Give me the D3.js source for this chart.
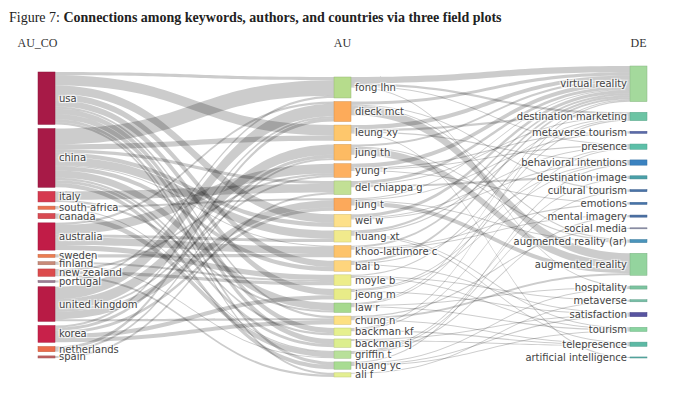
<!DOCTYPE html>
<html>
<head>
<meta charset="utf-8">
<script src="https://cdn.jsdelivr.net/npm/d3@7"></script>
<style>
  body { margin: 0; background: #fff; }
  .node-label {
    font-family: "DejaVu Sans", Verdana, sans-serif;
    font-size: 10px;
    fill: #444;
    text-shadow: 1px 1px 1px #fff, -1px -1px 1px #fff, 1px -1px 1px #fff, -1px 1px 1px #fff;
  }
</style>
</head>
<body>
<div id="chart"></div>
<script>
// DATA ------------------------------------------------------------------
const countries = ["usa", "china", "italy", "south africa", "canada", "australia", "sweden",
  "finland", "new zealand", "portugal", "united kingdom", "korea", "netherlands", "spain"];

const authors = ["fong lhn", "dieck mct", "leung xy", "jung th", "yung r", "del chiappa g",
  "jung t", "wei w", "huang xt", "khoo-lattimore c", "bai b", "moyle b", "jeong m", "law r",
  "chung n", "backman kf", "backman sj", "griffin t", "huang yc", "ali f"];

const keywords = ["virtual reality", "destination marketing", "metaverse tourism", "presence",
  "behavioral intentions", "destination image", "cultural tourism", "emotions", "mental imagery",
  "social media", "augmented reality (ar)", "augmented reality", "hospitality", "metaverse",
  "satisfaction", "tourism", "telepresence", "artificial intelligence"];

// [country, author, value]
const countryAuthor = [
  ["china", "fong lhn", 15], ["usa", "fong lhn", 3], ["portugal", "fong lhn", 2],
  ["united kingdom", "dieck mct", 12], ["netherlands", "dieck mct", 3], ["korea", "dieck mct", 2], ["australia", "dieck mct", 2],
  ["usa", "leung xy", 10], ["china", "leung xy", 5],
  ["united kingdom", "jung th", 10], ["korea", "jung th", 3], ["netherlands", "jung th", 2],
  ["australia", "yung r", 9], ["united kingdom", "yung r", 2], ["new zealand", "yung r", 2],
  ["italy", "del chiappa g", 8], ["china", "del chiappa g", 3], ["spain", "del chiappa g", 2],
  ["united kingdom", "jung t", 7], ["korea", "jung t", 3], ["south africa", "jung t", 2],
  ["usa", "wei w", 8], ["china", "wei w", 4],
  ["china", "huang xt", 8], ["australia", "huang xt", 3],
  ["australia", "khoo-lattimore c", 7], ["china", "khoo-lattimore c", 1], ["sweden", "khoo-lattimore c", 3],
  ["usa", "bai b", 6], ["china", "bai b", 4],
  ["australia", "moyle b", 5], ["new zealand", "moyle b", 3], ["finland", "moyle b", 2],
  ["usa", "jeong m", 6], ["korea", "jeong m", 4],
  ["china", "law r", 7], ["italy", "law r", 2],
  ["korea", "chung n", 4], ["usa", "chung n", 2], ["united kingdom", "chung n", 2],
  ["usa", "backman kf", 5], ["china", "backman kf", 2],
  ["usa", "backman sj", 5], ["china", "backman sj", 3],
  ["canada", "griffin t", 5], ["finland", "griffin t", 1], ["south africa", "griffin t", 1],
  ["usa", "huang yc", 3], ["china", "huang yc", 4],
  ["usa", "ali f", 2], ["new zealand", "ali f", 2]
];

// [author, keyword, value]
const authorKeyword = [
  ["fong lhn", "virtual reality", 6], ["fong lhn", "destination marketing", 2], ["fong lhn", "presence", 1], ["fong lhn", "hospitality", 1],
  ["dieck mct", "augmented reality", 8], ["dieck mct", "virtual reality", 3], ["dieck mct", "cultural tourism", 1], ["dieck mct", "augmented reality (ar)", 1],
  ["leung xy", "virtual reality", 4], ["leung xy", "destination marketing", 2], ["leung xy", "behavioral intentions", 1], ["leung xy", "artificial intelligence", 1],
  ["jung th", "augmented reality", 7], ["jung th", "virtual reality", 2], ["jung th", "augmented reality (ar)", 1],
  ["yung r", "virtual reality", 4], ["yung r", "metaverse tourism", 1], ["yung r", "presence", 1], ["yung r", "emotions", 1],
  ["del chiappa g", "virtual reality", 3], ["del chiappa g", "destination image", 2], ["del chiappa g", "destination marketing", 1],
  ["jung t", "augmented reality", 4], ["jung t", "virtual reality", 1], ["jung t", "augmented reality (ar)", 1], ["jung t", "metaverse tourism", 1],
  ["wei w", "virtual reality", 3], ["wei w", "presence", 1], ["wei w", "behavioral intentions", 1],
  ["huang xt", "virtual reality", 2], ["huang xt", "destination marketing", 1], ["huang xt", "telepresence", 1], ["huang xt", "tourism", 1],
  ["khoo-lattimore c", "virtual reality", 2], ["khoo-lattimore c", "emotions", 1], ["khoo-lattimore c", "mental imagery", 1],
  ["bai b", "virtual reality", 2], ["bai b", "behavioral intentions", 1], ["bai b", "satisfaction", 1],
  ["moyle b", "destination marketing", 1], ["moyle b", "tourism", 1], ["moyle b", "metaverse", 1],
  ["jeong m", "behavioral intentions", 1], ["jeong m", "presence", 1], ["jeong m", "satisfaction", 1],
  ["law r", "virtual reality", 1], ["law r", "hospitality", 1], ["law r", "tourism", 1], ["law r", "destination marketing", 1],
  ["chung n", "augmented reality", 2], ["chung n", "social media", 1], ["chung n", "telepresence", 1],
  ["backman kf", "virtual reality", 1], ["backman kf", "presence", 1], ["backman kf", "telepresence", 1],
  ["backman sj", "satisfaction", 1], ["backman sj", "telepresence", 1],
  ["griffin t", "cultural tourism", 1], ["griffin t", "mental imagery", 1], ["griffin t", "destination image", 1],
  ["huang yc", "behavioral intentions", 1], ["huang yc", "satisfaction", 1], ["huang yc", "tourism", 1], ["huang yc", "hospitality", 1],
  ["ali f", "metaverse", 1]
];

const fieldTitles = ["AU_CO", "AU", "DE"];

// STYLES ----------------------------------------------------------------
const nodeColor = d3.scaleOrdinal()
  .domain([...countries, ...authors, ...keywords])
  .range([
    // countries
    "#a71a47", "#a71a47", "#d6394f", "#ea7150", "#d94a52", "#c11c47", "#ec7d51",
    "#c98a78", "#dc4b4c", "#9b7c93", "#b81b45", "#c8214a", "#ea6b4b", "#c06262",
    // authors
    "#b6dc8c", "#fdab5a", "#fec76c", "#fdbb63", "#fdb060", "#c2e095", "#fca95b",
    "#fde08a", "#f1ea8c", "#fdc36a", "#fed57d", "#eded8a", "#e8ec88", "#a6d98e",
    "#fde082", "#e6f08e", "#dcee8e", "#b8e09a", "#a8dc92", "#e4ef92",
    // keywords
    "#a4d99c", "#6cc4a4", "#5a6aaa", "#5cbfa8", "#3a82c0", "#4aa0a8", "#4a74a8",
    "#4674aa", "#4a70a5", "#8a8ea8", "#4a94bb", "#94d49e", "#7cc4a0", "#76bea6",
    "#5854a0", "#8ad4a0", "#5cb9a4", "#5ab0a8"
  ]);

// CHART -----------------------------------------------------------------
const width = 687, height = 400;
const nodeWidth = 17;
const colX = d3.scaleLinear().domain([0, 2]).range([38, 630]);
const colExtent = [[72, 358], [77, 377], [66, 358]];
const minPad = 3.6;

const svg = d3.select('#chart')
  .append('svg')
  .attr('width', width)
  .attr('height', height);

// build nodes and links
const columns = [countries, authors, keywords];
const nodeMap = new Map();
columns.forEach((names, col) => {
  names.forEach((name, i) => {
    nodeMap.set(col + ':' + name, {name, col, index: i, inLinks: [], outLinks: []});
  });
});

const links = [];
countryAuthor.forEach(([s, t, v]) => links.push({source: nodeMap.get('0:' + s), target: nodeMap.get('1:' + t), value: v}));
authorKeyword.forEach(([s, t, v]) => links.push({source: nodeMap.get('1:' + s), target: nodeMap.get('2:' + t), value: v}));
links.forEach(l => { l.source.outLinks.push(l); l.target.inLinks.push(l); });

const nodes = Array.from(nodeMap.values());
nodes.forEach(n => {
  n.value = Math.max(d3.sum(n.inLinks, l => l.value), d3.sum(n.outLinks, l => l.value));
});

// shared vertical scale
const byCol = d3.group(nodes, n => n.col);
const ky = d3.min(Array.from(byCol), ([col, ns]) =>
  (colExtent[col][1] - colExtent[col][0] - minPad * (ns.length - 1)) / d3.sum(ns, n => n.value));

byCol.forEach((ns, col) => {
  const total = d3.sum(ns, n => n.value) * ky;
  const pad = (colExtent[col][1] - colExtent[col][0] - total) / (ns.length - 1);
  let y = colExtent[col][0];
  ns.sort((a, b) => a.index - b.index).forEach(n => {
    n.x0 = colX(col);
    n.x1 = n.x0 + nodeWidth;
    n.y0 = y;
    n.y1 = y + n.value * ky;
    y = n.y1 + pad;
  });
});

// link offsets: sorted by the position of the other end
links.forEach(l => { l.width = l.value * ky; });
nodes.forEach(n => {
  let sy = n.y0;
  n.outLinks.sort((a, b) => a.target.y0 - b.target.y0).forEach(l => { l.sy = sy; sy += l.width; });
  let ty = n.y0;
  n.inLinks.sort((a, b) => a.source.y0 - b.source.y0).forEach(l => { l.ty = ty; ty += l.width; });
});

function ribbon(l) {
  const x0 = l.source.x1, x1 = l.target.x0, xm = (x0 + x1) / 2;
  const y0 = l.sy, y1 = l.ty, w = l.width;
  return `M${x0},${y0}C${xm},${y0} ${xm},${y1} ${x1},${y1}` +
    `L${x1},${y1 + w}C${xm},${y1 + w} ${xm},${y0 + w} ${x0},${y0 + w}Z`;
}

svg.append('g')
  .selectAll('path')
  .data(links)
  .join('path')
  .attr('d', ribbon)
  .attr('fill', 'rgba(0,0,0,0.2)');

svg.append('g')
  .selectAll('rect')
  .data(nodes)
  .join('rect')
  .attr('x', d => d.x0)
  .attr('y', d => d.y0)
  .attr('width', nodeWidth)
  .attr('height', d => Math.max(1, d.y1 - d.y0))
  .attr('fill', d => nodeColor(d.name))
  .attr('stroke', d => d3.color(nodeColor(d.name)).darker(0.5))
  .attr('stroke-width', 0.5);

svg.append('g')
  .selectAll('text')
  .data(nodes)
  .join('text')
  .attr('class', 'node-label')
  .attr('x', d => d.col === 2 ? d.x0 - 3 : d.x1 + 4)
  .attr('y', d => (d.y0 + d.y1) / 2)
  .attr('dy', '0.35em')
  .attr('text-anchor', d => d.col === 2 ? 'end' : 'start')
  .text(d => d.name);

// field headers
svg.append('g')
  .selectAll('text')
  .data(fieldTitles)
  .join('text')
  .attr('x', (d, i) => colX(i) + nodeWidth / 2 - (i === 0 ? 9 : 0))
  .attr('y', 47)
  .attr('text-anchor', 'middle')
  .style('font-family', '"Liberation Serif", serif')
  .style('font-size', '12px')
  .style('fill', '#333')
  .text(d => d);

// figure title
const title = svg.append('text')
  .attr('x', 9)
  .attr('y', 22)
  .style('font-family', '"Liberation Serif", serif')
  .style('font-size', '14px')
  .style('fill', '#222');
title.append('tspan').text('Figure 7: ');
title.append('tspan').style('font-weight', 'bold')
  .text('Connections among keywords, authors, and countries via three field plots');
</script>
</body>
</html>
